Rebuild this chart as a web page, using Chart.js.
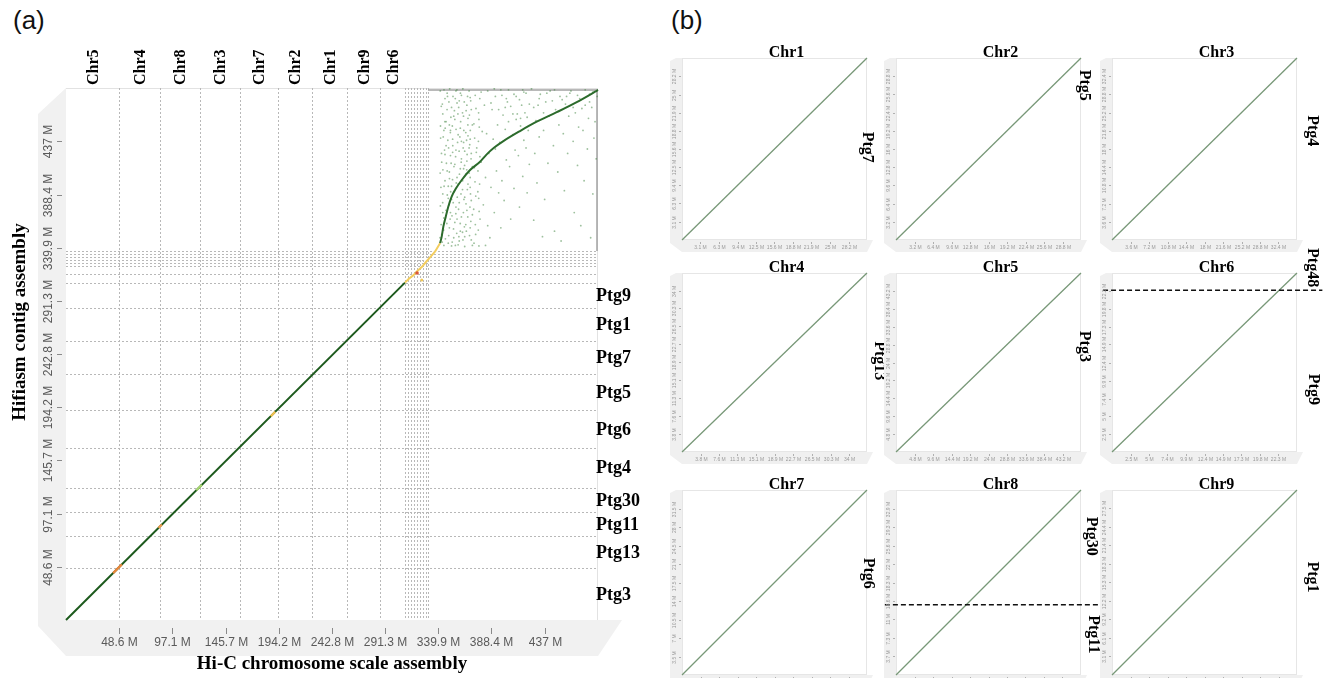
<!DOCTYPE html>
<html>
<head>
<meta charset="utf-8">
<script src="https://cdn.jsdelivr.net/npm/chart.js@4.4.0/dist/chart.umd.min.js"></script>
<style>
  body { margin: 0; width: 1325px; height: 678px; overflow: hidden; position: relative; background: #fff; }
  canvas { position: absolute; }
  .panel { position: absolute; font: 26px 'Liberation Sans', Arial, sans-serif; color: #111; }
</style>
</head>
<body>
<div class="panel" style="left:13px; top:5px;">(a)</div>
<div class="panel" style="left:671px; top:5px;">(b)</div>
<script>
// ---------- panel (a) data (Mb) ----------
const genomeMax = 485.7;
const axisTicks = [48.6, 97.1, 145.7, 194.2, 242.8, 291.3, 339.9, 388.4, 437];
const axisTickLabels = ['48.6 M', '97.1 M', '145.7 M', '194.2 M', '242.8 M', '291.3 M', '339.9 M', '388.4 M', '437 M'];

const chrOrder = ['Chr5', 'Chr4', 'Chr8', 'Chr3', 'Chr7', 'Chr2', 'Chr1', 'Chr9', 'Chr6'];
const chrEnds = [48.7, 85.8, 122.3, 158.9, 193.8, 224.9, 256.3, 286.7, 309.5];
const scaffoldEndsX = [312.2, 315.0, 317.7, 320.5, 323.2, 325.9, 328.7, 330.5];

const ptgOrder = ['Ptg3', 'Ptg13', 'Ptg11', 'Ptg30', 'Ptg4', 'Ptg6', 'Ptg5', 'Ptg7', 'Ptg1', 'Ptg9'];
const ptgEnds = [47.2, 76.7, 98.3, 120.8, 157.3, 191.7, 224.3, 255.0, 285.1, 308.0];
const contigEndsY = [315.9, 323.2, 325.9, 328.7, 331.4, 334.2, 336.9];

const diagonalMain = [[0, 0], [309.5, 308]];
const orangeBitA = [[43, 42.8], [51, 50.8]];
const orangeBitB = [[84.5, 84.1], [87.5, 87.1]];
const limeBit = [[119, 118.4], [124, 123.4]];
const goldBit = [[187, 186.1], [191, 190.1]];
const goldTail = [[309.5, 308], [313, 311.5], [317, 314.6], [321, 318.9], [325, 322.4], [329, 327.3], [333, 331.8], [337, 336.5], [341.5, 343.9]];
const redDot = [[320.5, 316.8]];
const goldDot = [[324.8, 310.4]];

const curveUnplaced = [
  [341.5, 343.9], [343.0, 350.0], [344.5, 359.1], [346.7, 368.2], [349.0, 377.3], [352.1, 386.5],
  [356.1, 394.1], [361.3, 401.7], [368.9, 410.8], [378.0, 418.4], [384.1, 425.1], [390.7, 431.1],
  [399.3, 437.2], [414.5, 446.4], [429.7, 454.9], [448.0, 463.6], [466.3, 472.8], [483.0, 482.3], [485.7, 483.9]
];

// dot cloud of the unplaced contigs, left band is the dense part
const cloudPoints = [
  [343,352],[345,367],[344,389],[346,401],[343,418],[347,433],[345,447],[344,462],[346,476],[348,481],
  [349,344],[350,358],[351,372],[349,385],[352,396],[350,409],[351,424],[353,439],[350,452],[352,468],
  [354,349],[355,363],[356,377],[354,391],[357,404],[355,416],[356,429],[358,443],[355,457],[357,472],
  [359,346],[360,355],[361,368],[359,381],[362,393],[360,412],[361,421],[363,436],[360,449],[362,463],[361,479],
  [364,350],[365,361],[366,374],[364,386],[367,398],[365,407],[366,419],[368,431],[365,445],[367,458],[366,470],[368,483],
  [370,347],[369,358],[371,370],[370,383],[369,395],[371,414],[370,426],[369,439],[371,452],[370,466],[369,477],
  [342,440],[347,455],[353,427],[358,398],[363,412],[348,410],[352,384],[357,366],[362,354],[367,442],
  [344,372],[349,396],[354,460],[359,474],[364,428],[369,404],[346,425],[351,447],[356,483],[361,437],
  [345,342],[352,341.5],[358,342.5],[364,341],[371,342],[377,341.5],[383,342],
  [374,352],[378,366],[381,379],[376,391],[383,404],[379,418],[375,431],[384,444],[377,457],[382,470],[379,482],
  [387,349],[391,372],[388,395],[393,410],[386,426],[390,439],[394,452],[389,466],[392,478],
  [397,358],[400,383],[398,401],[402,420],[396,436],[401,448],[399,461],[403,473],[397,484],
  [406,366],[409,394],[405,414],[410,429],[408,443],[411,457],[406,469],[409,480],
  [414,377],[417,405],[413,424],[418,438],[415,451],[419,463],[414,475],[417,484],
  [421,390],[423,416],[420,431],[422,447],[421,459],[423,471],[420,481],
  [385,360],[395,390],[404,455],[412,462],[380,446],[392,430],[401,468],[416,470],
  [427,365],[430,399],[428,426],[432,441],[429,456],[431,470],[433,480],
  [437,384],[440,417],[436,447],[441,460],[438,473],[442,483],
  [446,355],[449,409],[445,433],[450,452],[447,466],[451,478],
  [455,392],[458,426],[454,444],[459,460],[456,471],[460,481],
  [464,372],[467,415],[463,437],[468,450],[465,463],[469,476],
  [473,401],[476,430],[472,447],[477,458],[474,470],[478,480],
  [481,389],[484,421],[482,440],[483,455],[480,468],[485,478],
  [435,350],[452,346],[470,360],[479,349]
];
const cloudPointsDense = [
  [341.5,349],[342.5,361],[341.8,378],[342.3,395],[341.6,408],[342.8,426],[341.9,451],[342.6,469],[341.7,483],
  [343.5,345],[344.8,356],[343.9,381],[345.2,396],[344.1,411],[345.6,429],[344.4,441],[345.9,455],[343.6,471],[345.1,484],
  [346.4,348],[347.7,362],[346.9,374],[348.1,388],[347.3,417],[348.6,438],[346.2,449],[347.9,466],[348.3,478],
  [349.4,351],[350.7,366],[349.8,379],[351.2,391],[350.1,403],[351.6,417],[349.3,431],[350.9,445],[351.4,459],[349.6,473],[350.3,485],
  [352.6,345],[353.8,357],[352.4,369],[353.5,381],[352.9,402],[354.2,414],[353.1,433],[352.7,451],[354.6,465],[353.3,478],
  [355.5,342],[356.7,353],[355.9,371],[357.2,386],[356.3,399],[355.7,423],[357.5,436],[356.1,448],[357.8,462],[355.4,476],[356.9,484],
  [358.7,350],[359.9,362],[358.4,375],[360.6,389],[359.2,407],[360.8,418],[358.9,428],[359.6,441],[360.3,455],[358.5,468],[360.1,481],
  [362.4,347],[363.7,359],[362.8,372],[363.3,384],[362.1,401],[363.9,415],[362.6,431],[363.2,447],[362.9,460],[363.6,473],[362.3,485],
  [365.5,355],[366.8,368],[365.2,380],[366.4,393],[365.9,411],[366.2,425],[365.7,438],[366.9,452],[365.3,465],[366.6,478],
  [368.4,351],[369.6,364],[368.8,377],[369.3,389],[368.1,408],[369.8,421],[368.6,434],[369.1,447],[368.3,461],[369.5,474],
  [372.5,344],[373.7,361],[372.2,375],[374.1,387],[373.4,400],[372.8,413],[374.6,427],[373.1,440],[372.4,453],[374.3,467],[373.6,479],
  [376.4,356],[377.2,373],[376.8,385],[377.6,398],[376.1,410],[377.9,423],[376.5,437],[377.3,450],[376.7,463],[377.8,476],
  [385,483],[391,485],[398,479],[404,484],[411,478],[418,482],[425,485],[432,476],[439,481],[446,484],[453,475],[461,483],[467,479],[474,484],[481,482],
  [388,472],[395,466],[402,476],[408,462],[415,458],[427,468],[436,463],[444,474],[457,478],[463,468],[471,467],[478,473]
];
const cloudBoxX = 330.5;
const cloudBoxY = 337;

// ---------- panel (b) data ----------
const subChr = ['Chr1', 'Chr2', 'Chr3', 'Chr4', 'Chr5', 'Chr6', 'Chr7', 'Chr8', 'Chr9'];
const subLen = [31.3, 32.0, 36.0, 37.7, 48.0, 24.8, 35.0, 36.6, 30.5];
const subTicks = [
  [3.1, 6.3, 9.4, 12.5, 15.6, 18.8, 21.9, 25, 28.2],
  [3.2, 6.4, 9.6, 12.8, 16, 19.2, 22.4, 25.6, 28.8],
  [3.6, 7.2, 10.8, 14.4, 18, 21.6, 25.2, 28.8, 32.4],
  [3.8, 7.6, 11.3, 15.1, 18.9, 22.7, 26.5, 30.3, 34],
  [4.8, 9.6, 14.4, 19.2, 24, 28.8, 33.6, 38.4, 43.2],
  [2.5, 5, 7.4, 9.9, 12.4, 14.9, 17.3, 19.8, 22.3],
  [3.5, 7, 10.5, 14, 17.5, 21, 24.5, 28, 31.5],
  [3.7, 7.3, 11, 14.6, 18.3, 22, 25.6, 29.3, 32.9],
  [3.1, 6.1, 9.2, 12.2, 15.3, 18.3, 21.4, 24.4, 27.5]
];
const subPtg = [['Ptg7'], ['Ptg5'], ['Ptg4'], ['Ptg13'], ['Ptg3'], ['Ptg48', 'Ptg9'], ['Ptg6'], ['Ptg30', 'Ptg11'], ['Ptg1']];
// contig break on the y axis: [y, xFrom, xTo]
const subSplit = [null, null, null, null, null, [22.4, -1.2, 28.2], null, [13.9, -2.2, 40.4], null];

// ---------- layout ----------
const subCols = [682, 896, 1112];
const subRows = [[58, 182], [273, 179], [490, 185]];
const subW = 185;
// ptg label placement: [px right of plot, fraction from top]
const subPtgPos = [[[0, 0.49]], [[3, 0.15]], [[15, 0.40]], [[12, 0.49]], [[3, 0.41]], [[15, -0.03], [16, 0.65]], [[1, 0.45]], [[10, 0.25], [12, 0.78]], [[15, 0.47]]];

const serifBold = "'Liberation Serif', 'DejaVu Serif', serif";
const narrow = "'Liberation Sans Narrow', 'Liberation Sans', Arial, sans-serif";
const toXY = arr => arr.map(([x, y]) => ({ x, y }));

function makeCanvas(left, top, w, h) {
  const c = document.createElement('canvas');
  c.width = w; c.height = h;
  c.style.left = left + 'px'; c.style.top = top + 'px';
  c.style.width = w + 'px'; c.style.height = h + 'px';
  document.body.appendChild(c);
  return c;
}

function baseOptions(pad, xmin, xmax, ymax) {
  return {
    responsive: false,
    animation: false,
    devicePixelRatio: 1,
    events: [],
    layout: { padding: pad },
    scales: {
      x: { type: 'linear', min: xmin, max: xmax, display: false },
      y: { type: 'linear', min: 0, max: ymax, display: false }
    },
    plugins: { legend: { display: false }, tooltip: { enabled: false } },
    elements: { point: { radius: 0 }, line: { tension: 0 } }
  };
}

function seg(data, color, width, order) {
  return { data: toXY(data), showLine: true, borderColor: color, borderWidth: width, pointRadius: 0, order: order, clip: false };
}

// ---------- panel (a) ----------
const frameA = {
  id: 'frameA',
  beforeDraw(chart) {
    const { ctx, chartArea: a, scales: { x, y } } = chart;
    ctx.save();
    ctx.fillStyle = '#f1f1f1';
    ctx.beginPath();
    ctx.moveTo(a.left - 28, a.top + 26);
    ctx.lineTo(a.left, a.top);
    ctx.lineTo(a.left, a.bottom);
    ctx.lineTo(a.right + 24, a.bottom);
    ctx.lineTo(a.right, a.bottom + 36);
    ctx.lineTo(a.left, a.bottom + 36);
    ctx.lineTo(a.left - 28, a.bottom + 6);
    ctx.closePath();
    ctx.fill();

    // faint outer border of the plot
    ctx.strokeStyle = '#e2e2e2';
    ctx.lineWidth = 1;
    ctx.beginPath();
    ctx.moveTo(a.left, a.top + 0.5); ctx.lineTo(a.right, a.top + 0.5);
    ctx.moveTo(a.right - 0.5, a.top); ctx.lineTo(a.right - 0.5, a.bottom);
    ctx.stroke();

    // sequence boundaries
    ctx.strokeStyle = '#b8b8b8';
    ctx.setLineDash([2, 2]);
    ctx.beginPath();
    [...chrEnds, ...scaffoldEndsX].forEach(v => {
      const X = Math.round(x.getPixelForValue(v)) + 0.5;
      ctx.moveTo(X, a.top); ctx.lineTo(X, a.bottom);
    });
    [...ptgEnds, ...contigEndsY].forEach(v => {
      const Y = Math.round(y.getPixelForValue(v)) + 0.5;
      ctx.moveTo(a.left, Y); ctx.lineTo(a.right, Y);
    });
    ctx.stroke();
    ctx.setLineDash([]);

    // box of the unplaced block
    ctx.strokeStyle = '#a3a3a3';
    ctx.lineWidth = 1.5;
    ctx.beginPath();
    ctx.moveTo(x.getPixelForValue(cloudBoxX), a.top + 2);
    ctx.lineTo(a.right - 1, a.top + 2);
    ctx.lineTo(a.right - 1, y.getPixelForValue(cloudBoxY));
    ctx.stroke();
    ctx.restore();
  },
  afterDraw(chart) {
    const { ctx, chartArea: a, scales: { x, y } } = chart;
    ctx.save();
    // ticks
    ctx.strokeStyle = '#8a8a8a';
    ctx.lineWidth = 1;
    ctx.fillStyle = '#5a5a5a';
    ctx.font = '12px ' + narrow;
    ctx.textAlign = 'center';
    ctx.textBaseline = 'middle';
    axisTicks.forEach((v, i) => {
      const X = Math.round(x.getPixelForValue(v)) + 0.5;
      ctx.beginPath(); ctx.moveTo(X, a.bottom + 8); ctx.lineTo(X, a.bottom + 14); ctx.stroke();
      ctx.fillText(axisTickLabels[i], X, a.bottom + 23);
    });
    axisTicks.forEach((v, i) => {
      const Y = Math.round(y.getPixelForValue(v)) + 0.5;
      ctx.beginPath(); ctx.moveTo(a.left - 9, Y); ctx.lineTo(a.left - 4, Y); ctx.stroke();
      ctx.save();
      ctx.translate(a.left - 17, Y);
      ctx.rotate(-Math.PI / 2);
      ctx.fillText(axisTickLabels[i], 0, 0);
      ctx.restore();
    });

    // chromosome names along the top
    ctx.fillStyle = '#000';
    ctx.font = 'bold 16px ' + serifBold;
    ctx.textAlign = 'left';
    chrOrder.forEach((name, i) => {
      const from = i === 0 ? 0 : chrEnds[i - 1];
      const X = x.getPixelForValue((from + chrEnds[i]) / 2);
      ctx.save();
      ctx.translate(X, a.top - 3);
      ctx.rotate(-Math.PI / 2);
      ctx.fillText(name, 0, 1);
      ctx.restore();
    });

    // contig names on the right
    ctx.font = 'bold 18px ' + serifBold;
    ptgOrder.forEach((name, i) => {
      const from = i === 0 ? 0 : ptgEnds[i - 1];
      const Y = y.getPixelForValue((from + ptgEnds[i]) / 2);
      ctx.fillText(name, a.right - 2, Y + 1);
    });

    // axis titles
    ctx.font = 'bold 19px ' + serifBold;
    ctx.textAlign = 'center';
    ctx.fillText('Hi-C chromosome scale assembly', (a.left + a.right) / 2, a.bottom + 44);
    ctx.save();
    ctx.translate(20, 322);
    ctx.rotate(-Math.PI / 2);
    ctx.fillText('Hifiasm contig assembly', 0, 0);
    ctx.restore();
    ctx.restore();
  }
};

new Chart(makeCanvas(0, 0, 660, 678), {
  type: 'scatter',
  data: {
    datasets: [
      seg(orangeBitA, '#e8873c', 2.2, 0),
      seg(orangeBitB, '#ef9a4a', 2.2, 0),
      seg(limeBit, '#a6d46e', 2.2, 0),
      seg(goldBit, '#f2c150', 2.2, 0),
      { data: toXY(redDot), pointRadius: 1.8, backgroundColor: '#d9573a', borderWidth: 0, order: 0 },
      { data: toXY(goldDot), pointRadius: 1.5, backgroundColor: '#f2c95a', borderWidth: 0, order: 0 },
      seg(goldTail, '#f3cd5e', 2, 1),
      seg(diagonalMain, '#1d5a1d', 2, 1),
      Object.assign(seg(curveUnplaced, '#2c6b2c', 2, 1), { cubicInterpolationMode: 'monotone' }),
      { data: toXY(cloudPoints), pointRadius: 0.9, backgroundColor: 'rgba(60,130,60,0.5)', borderWidth: 0, order: 5 },
      { data: toXY(cloudPointsDense), pointRadius: 0.9, backgroundColor: 'rgba(60,130,60,0.5)', borderWidth: 0, order: 5 }
    ]
  },
  options: baseOptions({ left: 66, top: 88, right: 62, bottom: 58 }, 0, genomeMax, genomeMax),
  plugins: [frameA]
});

// ---------- panel (b) ----------
function subPlugin(i) {
  return {
    id: 'sub' + i,
    beforeDraw(chart) {
      const { ctx, chartArea: a } = chart;
      ctx.save();
      ctx.fillStyle = '#f0f0f0';
      ctx.beginPath();
      ctx.moveTo(a.left - 12, a.top + 3);
      ctx.lineTo(a.left - 6, a.top);
      ctx.lineTo(a.left, a.top);
      ctx.lineTo(a.left, a.bottom);
      ctx.lineTo(a.right + 6, a.bottom);
      ctx.lineTo(a.right, a.bottom + 12);
      ctx.lineTo(a.left, a.bottom + 12);
      ctx.lineTo(a.left - 12, a.bottom + 3);
      ctx.closePath();
      ctx.fill();
      ctx.strokeStyle = '#e6e6e6';
      ctx.lineWidth = 1;
      ctx.strokeRect(a.left + 0.5, a.top + 0.5, a.width - 1, a.height - 1);
      ctx.restore();
    },
    afterDraw(chart) {
      const { ctx, chartArea: a, scales: { x, y } } = chart;
      ctx.save();
      ctx.strokeStyle = '#b0b0b0';
      ctx.fillStyle = '#9a9a9a';
      ctx.lineWidth = 1;
      ctx.font = '5px ' + narrow;
      ctx.textAlign = 'center';
      ctx.textBaseline = 'middle';
      subTicks[i].forEach(v => {
        const X = Math.round(x.getPixelForValue(v)) + 0.5;
        ctx.beginPath(); ctx.moveTo(X, a.bottom + 2); ctx.lineTo(X, a.bottom + 4); ctx.stroke();
        ctx.fillText(v + ' M', X, a.bottom + 8);
        const Y = Math.round(y.getPixelForValue(v)) + 0.5;
        ctx.beginPath(); ctx.moveTo(a.left - 3, Y); ctx.lineTo(a.left - 1, Y); ctx.stroke();
        ctx.save();
        ctx.translate(a.left - 7, Y);
        ctx.rotate(-Math.PI / 2);
        ctx.fillText(v + ' M', 0, 0);
        ctx.restore();
      });

      ctx.fillStyle = '#000';
      ctx.font = 'bold 16px ' + serifBold;
      ctx.textBaseline = 'alphabetic';
      ctx.fillText(subChr[i], (a.left + a.right) / 2 + 12, a.top - 1);

      ctx.textBaseline = 'middle';
      subPtg[i].forEach((name, k) => {
        const [dx, fy] = subPtgPos[i][k];
        ctx.save();
        ctx.translate(a.right + dx, a.top + fy * a.height);
        ctx.rotate(Math.PI / 2);
        ctx.fillText(name, 0, 0);
        ctx.restore();
      });
      ctx.restore();
    }
  };
}

subChr.forEach((name, i) => {
  const col = i % 3, row = Math.floor(i / 3);
  const x0 = subCols[col], [y0, h] = subRows[row];
  const padL = 20, padT = 34, padR = 44, padB = 20;
  const canvas = makeCanvas(x0 - padL, y0 - padT, subW + padL + padR, h + padT + padB);
  const L = subLen[i];
  const datasets = [seg([[0, 0], [L, L]], '#789878', 1.3, 1)];
  if (subSplit[i]) {
    const [sy, xa, xb] = subSplit[i];
    const d = seg([[xa, sy], [xb, sy]], '#111', 1.6, 0);
    d.borderDash = [5, 3];
    datasets.push(d);
  }
  new Chart(canvas, {
    type: 'scatter',
    data: { datasets },
    options: baseOptions({ left: padL, top: padT, right: padR, bottom: padB }, 0, L, L),
    plugins: [subPlugin(i)]
  });
});
</script>
</body>
</html>
